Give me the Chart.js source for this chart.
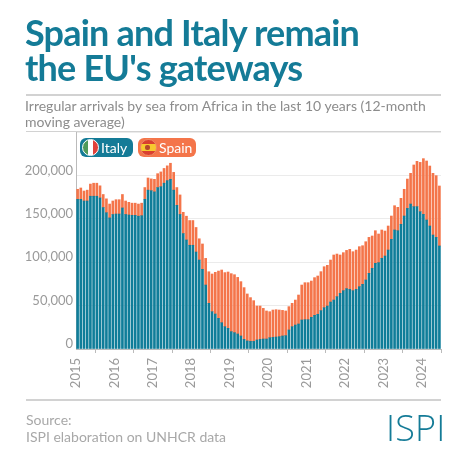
<!DOCTYPE html>
<html>
<head>
<meta charset="utf-8">
<script src="https://cdn.jsdelivr.net/npm/chart.js@4"></script>
<style>
html, body { margin: 0; padding: 0; background: #fff; }
#wrap { position: relative; width: 467px; height: 467px; overflow: hidden; font-family: Lato, sans-serif; }
#plot { position: absolute; left: 0; top: 0; }
.txt { position: absolute; white-space: nowrap; }
#title { left: 25px; top: 15px; color: #147b97; font-size: 36px; font-weight: 700; letter-spacing: -0.8px; line-height: 34.5px; }
#sub { left: 25px; top: 98px; color: #8c8c8c; font-size: 14px; line-height: 15.5px; }
#src { left: 26px; top: 411px; color: #a8a8a8; font-size: 14px; line-height: 17px; }
#logo { left: 386px; top: 406px; color: #147b97; font-family: "Open Sans", sans-serif; font-size: 36px; font-weight: 300; letter-spacing: 0.2px; line-height: 44px; }
.rule { position: absolute; left: 26px; width: 415px; height: 2px; background: #d2d2d2; }
.pill { position: absolute; top: 138px; height: 19px; border-radius: 6px; color: #fff; font-size: 14px; line-height: 19px; }
.pill span { position: absolute; left: 21px; top: 0; }
.flag { position: absolute; left: 2px; top: 1px; width: 17px; height: 17px; border-radius: 50%; box-sizing: border-box; border: 1px solid #fff; }
.emblem { position: absolute; left: 4px; top: 5px; width: 5px; height: 5px; border-radius: 2px; background: #b5492a; }
</style>
</head>
<body>
<div id="wrap">
  <canvas id="plot" width="467" height="467"></canvas>
  <div class="txt" id="title">Spain and Italy remain<br>the EU's gateways</div>
  <div class="rule" style="top:94px"></div>
  <div class="txt" id="sub">Irregular arrivals by sea from Africa in the last 10 years (12-month<br>moving average)</div>
  <div class="rule" style="top:131px;height:1px"></div>
  <div class="pill" style="left:80px;width:53px;background:#147b97">
    <div class="flag" style="background:linear-gradient(90deg,#4f9a5a 0 33%,#fff 33% 66%,#e0413a 66%)"></div><span>Italy</span>
  </div>
  <div class="pill" style="left:138px;width:58px;background:#f4754a">
    <div class="flag" style="border-color:#ee8a66;background:linear-gradient(180deg,#d9402f 0 25%,#f7c92f 25% 75%,#d9402f 75%)"><div class="emblem"></div></div><span>Spain</span>
  </div>
  <div class="rule" style="top:399px"></div>
  <div class="txt" id="src">Source:<br>ISPI elaboration on UNHCR data</div>
  <div class="txt" id="logo">ISPI</div>
</div>
<script>
let years = ['2015', '2016', '2017', '2018', '2019', '2020', '2021', '2022', '2023', '2024'];

// monthly values, Jan 2015 to Jun 2024
let italy = [
    172400, 172400, 170500, 170500, 176000, 176000, 176000, 174000, 163000, 157000, 151000, 155000,
    155500, 155500, 162500, 155000, 154400, 154000, 154000, 153000, 153600, 172400, 183000, 182400,
    181000, 186000, 187000, 191000, 194000, 195500, 183000, 165500, 155000, 133000, 125600, 119500,
    119500, 111700, 102500, 91800, 73700, 52600, 43000, 40300, 35300, 30300, 25700, 23800,
    20000, 18800, 17300, 15000, 11100, 9300, 8800, 8800, 10400, 11100, 11500, 11500,
    13000, 13400, 13800, 14200, 15000, 15400, 21900, 25700, 27600, 28800, 33400, 33800,
    33800, 36500, 38800, 40000, 44200, 47600, 49500, 54100, 56400, 60300, 64100, 67200,
    69500, 68700, 67200, 68700, 71800, 74500, 79500, 87200, 92900, 98700, 99500, 104500,
    107100, 114000, 126300, 137100, 136300, 143600, 153200, 162000, 167000, 164000, 164000, 158200,
    155100, 148600, 141700, 131300, 128600, 118700
];
let spain = [
    11600, 13100, 11500, 12500, 14000, 15000, 15000, 14000, 15000, 16000, 16000, 15500,
    16500, 16500, 15500, 15500, 14600, 14000, 14000, 14000, 14400, 13600, 14000, 13600,
    14500, 16000, 17000, 17000, 17000, 18500, 20500, 20500, 22500, 24500, 27400, 28500,
    28500, 28300, 24500, 29200, 30700, 36400, 43400, 48000, 54500, 60700, 62300, 64900,
    66800, 66800, 65200, 62600, 59600, 54100, 50400, 46900, 39100, 38400, 35300, 32300,
    30000, 31500, 31500, 30700, 29500, 28400, 26900, 26900, 28800, 33400, 40300, 42600,
    42600, 41800, 43400, 44100, 44900, 47200, 46900, 48400, 51900, 49100, 44200, 43800,
    44100, 46100, 44900, 45300, 46100, 44500, 44100, 41400, 37300, 37600, 33000, 32600,
    28800, 27700, 26900, 28000, 26900, 30000, 30800, 33800, 35400, 48000, 52200, 56800,
    64200, 68000, 69100, 71100, 71100, 69100
];

let textGrey = '#9a9a9a';
let plot = document.getElementById('plot').getContext('2d');

new Chart(plot, {
    type: 'bar',
    data: {
        datasets: [{
                label: 'Italy',
                data: italy.map((v, i) => ({x: i + 0.5, y: v})),
                backgroundColor: '#0f7d99',
                barThickness: 2
            },
            {
                label: 'Spain',
                data: spain.map((v, i) => ({x: i + 0.5, y: v})),
                backgroundColor: '#f4754a',
                barThickness: 2
            }
        ]
    },
    options: {
        responsive: false,
        animation: false,
        layout: { padding: { left: 0, right: 26, top: 132, bottom: 0 } },
        plugins: {
            legend: { display: false },
            title: { display: false },
            tooltip: { enabled: false }
        },
        scales: {
            x: {
                type: 'linear',
                stacked: true,
                offset: false,
                min: 0,
                max: italy.length,
                afterFit: scale => { scale.height = 118; },
                afterBuildTicks: scale => {
                    // one tick every January
                    scale.ticks = years.map((y, i) => ({value: i * 12}));
                },
                grid: { drawOnChartArea: false, tickLength: 4, tickColor: '#bbbbbb' },
                border: { color: '#bbbbbb' },
                ticks: {
                    autoSkip: false,
                    minRotation: 90,
                    maxRotation: 90,
                    padding: 5,
                    color: textGrey,
                    font: { family: 'Lato', size: 13 },
                    callback: value => years[value / 12]
                }
            },
            y: {
                stacked: true,
                min: 0,
                max: 250000,
                afterFit: scale => { scale.width = 76; },
                grid: {
                    color: '#ebebeb',
                    drawTicks: false
                },
                border: { color: '#bbbbbb' },
                ticks: {
                    stepSize: 50000,
                    padding: 3,
                    labelOffset: -5,
                    color: textGrey,
                    font: { family: 'Lato', size: 13 },
                    callback: value => value === 250000 ? '' : value.toLocaleString('en-US')
                }
            }
        }
    }
});
</script>
</body>
</html>
